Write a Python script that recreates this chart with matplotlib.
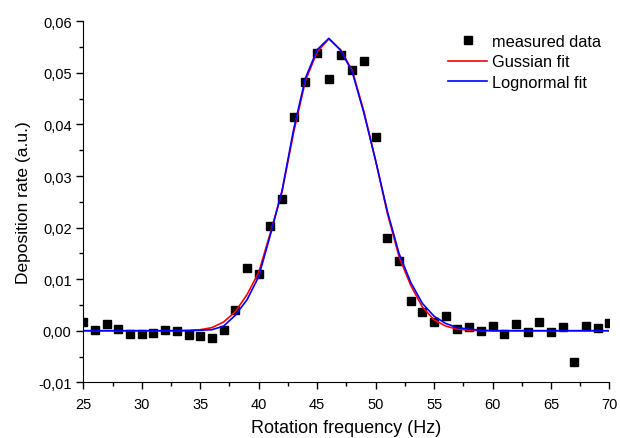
import numpy as np
import matplotlib.pyplot as plt
from matplotlib.ticker import MultipleLocator, FuncFormatter

plt.rcParams['font.family'] = ['Liberation Sans', 'DejaVu Sans']

# measured data
freq = list(range(25, 71))
measured = [0.0016, 0.0001, 0.0014, 0.0003, -0.0007, -0.0007, -0.0005, 0.0001,
            -0.0001, -0.0008, -0.0011, -0.0014, 0.0002, 0.0041, 0.0121, 0.0110,
            0.0204, 0.0256, 0.0414, 0.0483, 0.0538, 0.0489, 0.0534, 0.0505,
            0.0523, 0.0375, 0.0179, 0.0135, 0.0058, 0.0036, 0.0017, 0.0028,
            0.0003, 0.0007, 0.0000, 0.0009, -0.0007, 0.0013, -0.0003, 0.0016,
            -0.0003, 0.0008, -0.0060, 0.0010, 0.0006, 0.0015]

# fit curves (one value per Hz)
gauss_fit = [0, 0, 0, 0, 0, 0, 0, 0, 0, 0.0001, 0.0002, 0.0006, 0.0017, 0.0037,
             0.0070, 0.0113, 0.0190, 0.0270, 0.0386, 0.0485, 0.0541, 0.0566,
             0.0545, 0.0505, 0.0425, 0.0330, 0.0228, 0.0144, 0.0088, 0.0046,
             0.0021, 0.0009, 0.0003, 0.0001, 0, 0, 0, 0, 0, 0, 0, 0, 0, 0, 0, 0]
lognorm_fit = [0, 0, 0, 0, 0, 0, 0, 0, 0, 0, 0.0001, 0.0002, 0.0009, 0.0030,
               0.0060, 0.0105, 0.0186, 0.0272, 0.0392, 0.0490, 0.0545, 0.0567,
               0.0544, 0.0502, 0.0422, 0.0330, 0.0232, 0.0150, 0.0094, 0.0053,
               0.0028, 0.0014, 0.0006, 0.0003, 0.0001, 0, 0, 0, 0, 0, 0, 0, 0,
               0, 0, 0]

fig = plt.figure(figsize=(6.2, 4.39), dpi=100)
ax = fig.add_axes([0.1344, 0.1269, 0.8486, 0.8222])

ax.plot(freq, measured, 's', color='black', markersize=5.5, label='measured data')
ax.plot(freq, gauss_fit, color='#ff0000', linewidth=1.2, label='Gussian fit')
ax.plot(freq, lognorm_fit, color='#0000ff', linewidth=1.2, label='Lognormal fit')

ax.set_xlim(25, 70)
ax.set_ylim(-0.01, 0.06)
ax.xaxis.set_major_locator(MultipleLocator(5))
ax.xaxis.set_minor_locator(MultipleLocator(2.5))
ax.yaxis.set_major_locator(MultipleLocator(0.01))
ax.yaxis.set_minor_locator(MultipleLocator(0.005))
ax.yaxis.set_major_formatter(FuncFormatter(lambda v, p: f"{v:.2f}".replace('.', ',')))

ax.spines['top'].set_visible(False)
ax.spines['right'].set_visible(False)
ax.tick_params(which='major', direction='out', length=5, width=1, labelsize=10.5)
ax.tick_params(axis='x', which='major', pad=5.5)
ax.tick_params(which='minor', direction='out', length=3, width=1)

ax.set_xlabel('Rotation frequency (Hz)', fontsize=13, labelpad=6)
ax.set_ylabel('Deposition rate (a.u.)', fontsize=12.5, labelpad=5)

ax.legend(loc='upper left', frameon=False, fontsize=11.8, handlelength=2.4,
          labelspacing=0.35, handletextpad=0.3, borderaxespad=0,
          bbox_to_anchor=(0.712, 0.936), bbox_transform=fig.transFigure)

fig.savefig('out.png', dpi=100)
